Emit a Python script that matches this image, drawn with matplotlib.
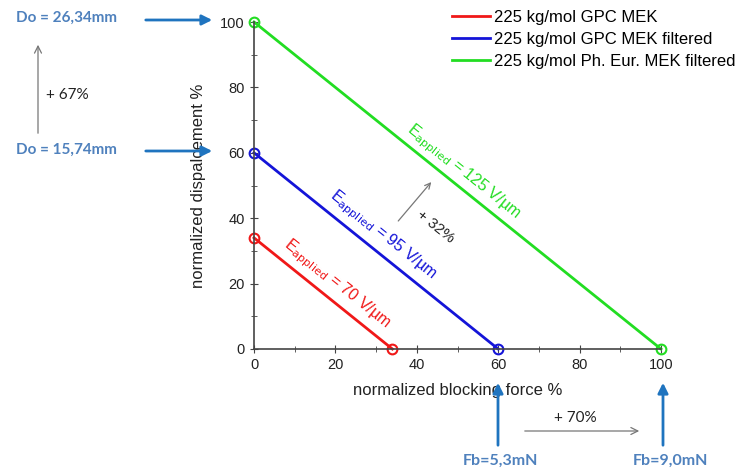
import matplotlib
matplotlib.use('Agg')
import matplotlib.pyplot as plt

# series: (force %, displacement %) endpoints
series_names = ['225 kg/mol GPC MEK',
                '225 kg/mol GPC MEK filtered',
                '225 kg/mol Ph. Eur. MEK filtered']
force_pct = [[0, 34], [0, 60], [0, 100]]
disp_pct = [[34, 0], [60, 0], [100, 0]]
field_labels = ['70', '95', '125']
colors = ['#f01818', '#1414d8', '#22dd22']

W, H = 742, 468
plt.rcParams['font.family'] = ['Liberation Sans', 'DejaVu Sans']
fig = plt.figure(figsize=(W / 100, H / 100), dpi=100)
ax = fig.add_axes([254 / W, 1 - 349 / H, 407 / W, 327 / H])

def fp(x, y):
    # pixel -> figure fraction
    return (x / W, 1 - y / H)

for f, d, c, name in zip(force_pct, disp_pct, colors, series_names):
    ax.plot(f, d, color=c, lw=2, label=name, clip_on=False)
    ax.plot(f, d, ls='none', marker='o', ms=7, mfc='none', mec=c, mew=1.5,
            clip_on=False)

ax.set_xlim(0, 100)
ax.set_ylim(0, 100)
ax.set_xticks(range(0, 101, 20))
ax.set_yticks(range(0, 101, 20))
ax.set_xticks(range(10, 100, 20), minor=True)
ax.set_yticks(range(10, 100, 20), minor=True)
ax.spines['top'].set_visible(False)
ax.spines['right'].set_visible(False)
for s in ['left', 'bottom']:
    ax.spines[s].set_color('#444444')
    ax.spines[s].set_linewidth(1.2)
ax.tick_params(which='both', direction='inout', colors='#444444',
               labelcolor='#222222', labelsize=10.5)
ax.tick_params(which='major', length=6)
ax.tick_params(which='minor', length=4)
ax.set_xlabel('normalized blocking force %', fontsize=12, color='#222222',
              labelpad=8)
ax.set_ylabel('normalized dispalcement %', fontsize=12, color='#222222',
              labelpad=10)

# legend (handles from line plots only)
handles = ax.get_lines()[0::2]
fig.legend(handles, series_names, loc='upper left',
           bbox_to_anchor=fp(452, 10), frameon=False, fontsize=12,
           handlelength=2.3, handletextpad=0.2, labelspacing=0.42,
           borderaxespad=0, borderpad=0)

# field labels along lines
label_pos = [(20.4, 19.9), (31.7, 34.9), (51.4, 54.1)]
for (x, y), v, c in zip(label_pos, field_labels, colors):
    ax.text(x, y, r'E$_{\mathrm{applied}}$ = ' + v + ' V/µm', color=c,
            fontsize=11.5, rotation=-38.8, rotation_mode='anchor',
            ha='center', va='center')

ax.annotate('', xy=(44, 51.7), xytext=(35, 38.5),
            arrowprops=dict(arrowstyle='->', color='#777777', lw=0.9))
ax.text(44.5, 37.5, '+ 32%', fontsize=11, rotation=-38.8,
        rotation_mode='anchor', ha='center', va='center', color='#222222')

# outside annotations
blue_txt = '#4f81bd'
blue_arr = '#1f74bf'
fig.text(*fp(66, 18), 'Do = 26,34mm', fontsize=11, fontweight='bold',
         color=blue_txt, ha='center', va='center', family='Lato')
fig.text(*fp(66, 150), 'Do = 15,74mm', fontsize=11, fontweight='bold',
         color=blue_txt, ha='center', va='center', family='Lato')
for yy in (20, 151):
    fig.add_artist(matplotlib.patches.FancyArrowPatch(
        fp(143, yy), fp(215, yy), transform=fig.transFigure,
        arrowstyle='-|>,head_length=6,head_width=3', color=blue_arr, lw=2))
fig.add_artist(matplotlib.patches.FancyArrowPatch(
    fp(38, 136), fp(38, 42), transform=fig.transFigure,
    arrowstyle='->,head_length=5,head_width=2.5', color='#777777', lw=0.9))
fig.text(*fp(67, 95), '+ 67%', fontsize=11, color='#222222',
         ha='center', va='center', family='Lato')

fig.text(*fp(500, 461), 'Fb=5,3mN', fontsize=11.5, fontweight='bold',
         color=blue_txt, ha='center', va='center', family='Lato')
fig.text(*fp(670, 461), 'Fb=9,0mN', fontsize=11.5, fontweight='bold',
         color=blue_txt, ha='center', va='center', family='Lato')
for xx in (498, 663):
    fig.add_artist(matplotlib.patches.FancyArrowPatch(
        fp(xx, 448), fp(xx, 380), transform=fig.transFigure,
        arrowstyle='-|>,head_length=6,head_width=3', color=blue_arr, lw=2))
fig.add_artist(matplotlib.patches.FancyArrowPatch(
    fp(522, 431), fp(642, 431), transform=fig.transFigure,
    arrowstyle='->,head_length=5,head_width=2.5', color='#777777', lw=0.9))
fig.text(*fp(575, 418), '+ 70%', fontsize=11, color='#222222',
         ha='center', va='center', family='Lato')

fig.savefig('out.png', dpi=100)
